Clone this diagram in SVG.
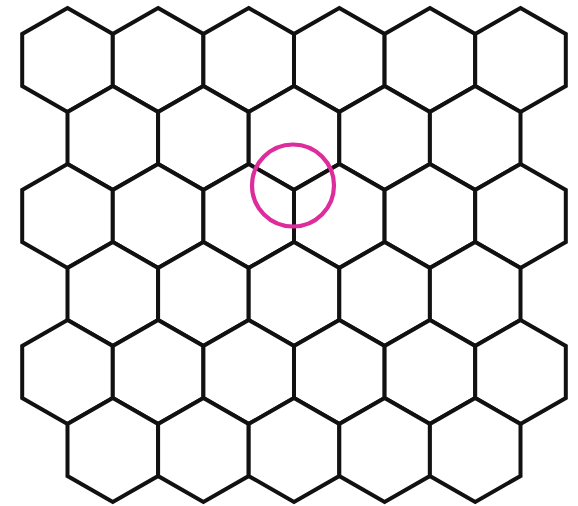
<svg xmlns="http://www.w3.org/2000/svg" xmlns:xlink="http://www.w3.org/1999/xlink" width="578" height="506" viewBox="0 0 578 506">
<defs>
<style>
.h{fill:#fff;stroke:#111;stroke-width:4;stroke-linejoin:miter}
.m{fill:none;stroke:#DD2C9C;stroke-width:4.2}
</style>
<polygon id="hex" class="h" points="0,-52 45.3,-26 45.3,26 0,52 -45.3,26 -45.3,-26"/>
</defs>
<rect width="578" height="506" fill="#fff"/>
<g id="hexes">
<g id="r0">
<use id="h0_0" href="#hex" x="67.5" y="60"/>
<use id="h0_1" href="#hex" x="158.1" y="60"/>
<use id="h0_2" href="#hex" x="248.7" y="60"/>
<use id="h0_3" href="#hex" x="339.3" y="60"/>
<use id="h0_4" href="#hex" x="429.9" y="60"/>
<use id="h0_5" href="#hex" x="520.5" y="60"/>
</g>
<g id="r1">
<use id="h1_0" href="#hex" x="112.8" y="138"/>
<use id="h1_1" href="#hex" x="203.4" y="138"/>
<use id="h1_2" href="#hex" x="294" y="138"/>
<use id="h1_3" href="#hex" x="384.6" y="138"/>
<use id="h1_4" href="#hex" x="475.2" y="138"/>
</g>
<g id="r2">
<use id="h2_0" href="#hex" x="67.5" y="216"/>
<use id="h2_1" href="#hex" x="158.1" y="216"/>
<use id="h2_2" href="#hex" x="248.7" y="216"/>
<use id="h2_3" href="#hex" x="339.3" y="216"/>
<use id="h2_4" href="#hex" x="429.9" y="216"/>
<use id="h2_5" href="#hex" x="520.5" y="216"/>
</g>
<g id="r3">
<use id="h3_0" href="#hex" x="112.8" y="294"/>
<use id="h3_1" href="#hex" x="203.4" y="294"/>
<use id="h3_2" href="#hex" x="294" y="294"/>
<use id="h3_3" href="#hex" x="384.6" y="294"/>
<use id="h3_4" href="#hex" x="475.2" y="294"/>
</g>
<g id="r4">
<use id="h4_0" href="#hex" x="67.5" y="372"/>
<use id="h4_1" href="#hex" x="158.1" y="372"/>
<use id="h4_2" href="#hex" x="248.7" y="372"/>
<use id="h4_3" href="#hex" x="339.3" y="372"/>
<use id="h4_4" href="#hex" x="429.9" y="372"/>
<use id="h4_5" href="#hex" x="520.5" y="372"/>
</g>
<g id="r5">
<use id="h5_0" href="#hex" x="112.8" y="450"/>
<use id="h5_1" href="#hex" x="203.4" y="450"/>
<use id="h5_2" href="#hex" x="294" y="450"/>
<use id="h5_3" href="#hex" x="384.6" y="450"/>
<use id="h5_4" href="#hex" x="475.2" y="450"/>
</g>
</g>
<g id="connectors"></g>
<g id="highlight">
<circle class="m" cx="293" cy="185.5" r="41"/>
</g>
</svg>
